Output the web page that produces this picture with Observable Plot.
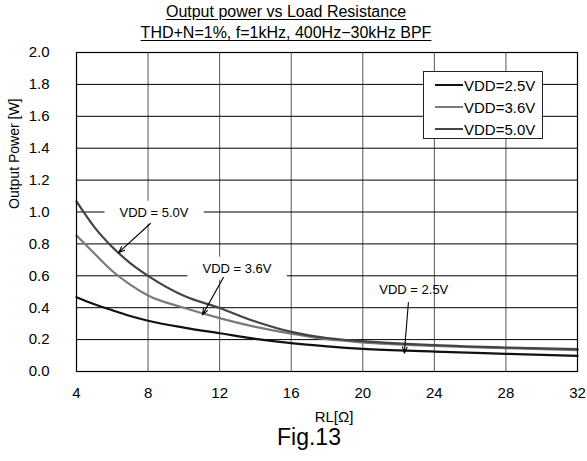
<!DOCTYPE html>
<html>
<head>
<meta charset="utf-8">
<script src="https://cdn.jsdelivr.net/npm/d3@7"></script>
<script src="https://cdn.jsdelivr.net/npm/@observablehq/plot@0.6"></script>
<style>
  html, body { margin: 0; padding: 0; background: #fff; }
  #wrap { position: relative; width: 587px; height: 461px; font-family: "Liberation Sans", Arial, sans-serif; }
  .t { position: absolute; white-space: nowrap; color: #000; }
  .title { font-size: 16px; text-decoration: underline; text-underline-offset: 2px; transform: translateX(-50%); }
  #legend { position: absolute; left: 423px; top: 71px; width: 118px; height: 66px; border: 1px solid #222; background: #fff; }
  .row { position: absolute; left: 11px; height: 20px; display: flex; align-items: center; font-size: 15px; }
  .sw { width: 28px; height: 2px; margin-right: 1px; }
</style>
</head>
<body>
<div id="wrap"></div>
<script>
// ---- data ----
const rl = [4, 5, 6, 7, 8, 10, 12, 14, 16, 18, 20, 24, 28, 32];
const p25 = [0.466, 0.422, 0.384, 0.348, 0.318, 0.275, 0.24, 0.205, 0.178, 0.158, 0.142, 0.125, 0.111, 0.098];
const p36 = [0.853, 0.74, 0.63, 0.545, 0.477, 0.40, 0.335, 0.28, 0.237, 0.202, 0.182, 0.16, 0.146, 0.134];
const p50 = [1.066, 0.905, 0.78, 0.68, 0.60, 0.475, 0.398, 0.313, 0.248, 0.21, 0.19, 0.165, 0.150, 0.140];
const seriesNames = ["VDD=2.5V", "VDD=3.6V", "VDD=5.0V"];
const seriesColors = ["#111111", "#7a7a7a", "#444444"];
const xTicks = [4, 8, 12, 16, 20, 24, 28, 32];
const yTicks = [0, 0.2, 0.4, 0.6, 0.8, 1.0, 1.2, 1.4, 1.6, 1.8, 2.0];

const annLabels = ["VDD = 5.0V", "VDD = 3.6V", "VDD = 2.5V"];
const annX = [8.33, 12.97, 22.85];
const annY = [0.997, 0.646, 0.514];
const annBoxed = [true, true, false];
const arrX1 = [8.13, 12.21, 22.55];
const arrY1 = [0.928, 0.589, 0.433];
const arrX2 = [6.35, 11.04, 22.32];
const arrY2 = [0.745, 0.355, 0.115];

const titleLines = ["Output power vs Load Resistance", "THD+N=1%, f=1kHz, 400Hz\u221230kHz BPF"];
const xLabel = "RL[\u03A9]";
const yLabel = "Output Power [W]";
const figLabel = "Fig.13";

// ---- tables ----
const allSeries = [p25, p36, p50];
const rows = [];
allSeries.forEach((vals, s) => vals.forEach((v, i) => rows.push({x: rl[i], y: v, s: seriesNames[s]})));
const anns = annLabels.map((l, i) => ({label: l, x: annX[i], y: annY[i], boxed: annBoxed[i],
  x1: arrX1[i], y1: arrY1[i], x2: arrX2[i], y2: arrY2[i]}));

const chart = Plot.plot({
  width: 587,
  height: 461,
  marginTop: 52,
  marginLeft: 76,
  marginRight: 10,
  marginBottom: 90,
  style: {fontFamily: "Liberation Sans, Arial, sans-serif", fontSize: "15px", background: "#fff", color: "#000"},
  x: {domain: [4, 32], ticks: xTicks, tickSize: 0, tickPadding: 16, label: null},
  y: {domain: [0, 2], ticks: yTicks, tickSize: 0, tickPadding: 27, tickFormat: d3.format(".1f"), label: null},
  color: {domain: seriesNames, range: seriesColors},
  marks: [
    Plot.ruleX(xTicks.slice(1, -1), {stroke: "#555", strokeWidth: 1}),
    Plot.ruleY(yTicks, {stroke: "#000", strokeWidth: 1}),
    Plot.line(rows, {x: "x", y: "y", z: "s", stroke: "s", strokeWidth: 2.2, curve: "monotone-x"}),
    Plot.text(anns, {x: "x", y: "y", text: "label", fontSize: 13, fill: "#000"}),
    Plot.arrow(anns, {x1: "x1", y1: "y1", x2: "x2", y2: "y2", stroke: "#000", strokeWidth: 1.1, headLength: 9, headAngle: 40}),
    Plot.frame({stroke: "#000", strokeWidth: 1.2}),
    Plot.text([yLabel], {frameAnchor: "left", rotate: -90, dx: -62, dy: -3, fontSize: 14, fill: "#000"}),
    Plot.text([xLabel], {frameAnchor: "bottom", dx: 7, dy: 50, fontSize: 15, fill: "#000"}),
    Plot.text([figLabel], {frameAnchor: "bottom", dx: -18, dy: 73, fontSize: 23, fill: "#000"})
  ]
});

const wrap = document.getElementById("wrap");
wrap.appendChild(chart);

// white boxes behind boxed annotation labels
d3.select(chart).selectAll("text").each(function() {
  const a = anns.find(d => d.label === this.textContent);
  if (!a || !a.boxed) return;
  const bb = this.getBBox();
  const m = this.getScreenCTM();
  const inv = chart.getScreenCTM().inverse();
  const p1 = chart.createSVGPoint(); p1.x = bb.x; p1.y = bb.y;
  const p2 = chart.createSVGPoint(); p2.x = bb.x + bb.width; p2.y = bb.y + bb.height;
  const q1 = p1.matrixTransform(m).matrixTransform(inv);
  const q2 = p2.matrixTransform(m).matrixTransform(inv);
  const textGroup = this.closest('g[aria-label="text"]');
  const rect = document.createElementNS("http://www.w3.org/2000/svg", "rect");
  rect.setAttribute("x", q1.x - 15);
  rect.setAttribute("y", q1.y - 4);
  rect.setAttribute("width", (q2.x - q1.x) + 30);
  rect.setAttribute("height", (q2.y - q1.y) + 8);
  rect.setAttribute("fill", "#fff");
  textGroup.parentNode.insertBefore(rect, textGroup);
});

// titles
titleLines.forEach((t, i) => {
  const d = document.createElement("div");
  d.className = "t title";
  d.textContent = t;
  d.style.left = "286px";
  d.style.top = (i === 0 ? 3 : 24) + "px";
  wrap.appendChild(d);
});

// legend
const lg = document.createElement("div");
lg.id = "legend";
seriesNames.forEach((n, i) => {
  const r = document.createElement("div");
  r.className = "row";
  r.style.top = (3 + i * 22) + "px";
  const sw = document.createElement("span");
  sw.className = "sw";
  sw.style.background = seriesColors[i];
  const tx = document.createElement("span");
  tx.textContent = n;
  r.appendChild(sw); r.appendChild(tx);
  lg.appendChild(r);
});
wrap.appendChild(lg);
</script>
</body>
</html>
